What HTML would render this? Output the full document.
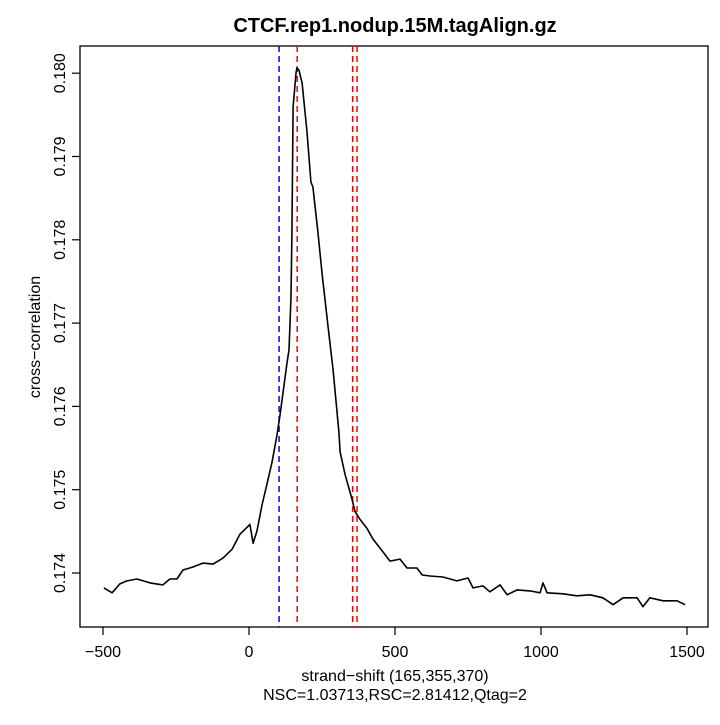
<!DOCTYPE html>
<html><head><meta charset="utf-8"><style>
body{margin:0;background:#fff}
svg text{font-family:"Liberation Sans",sans-serif;fill:#000}
</style></head><body>
<svg id="chart" width="720" height="720" xmlns="http://www.w3.org/2000/svg">
<g id="g"></g>
</svg>
<script>
const shifts=[-497,-469,-442,-418,-384,-339,-295,-271,-247,-226,-192,-158,-123,-89,-58,-31,3,14,27,45,62,79,96,106,130,137,144,147,151,161,164,171,182,199,212,219,236,250,271,288,308,312,329,353,363,380,404,425,449,483,517,541,575,593,620,664,712,750,767,801,825,860,884,918,962,997,1007,1021,1075,1123,1168,1212,1247,1281,1329,1349,1373,1418,1466,1493];
const corr=[0.173821,0.173762,0.173869,0.173905,0.173928,0.173881,0.173857,0.173928,0.173928,0.174036,0.174072,0.174119,0.174107,0.174179,0.174286,0.174465,0.174584,0.174358,0.174501,0.174822,0.175073,0.175335,0.175657,0.175895,0.176521,0.176677,0.177314,0.178058,0.179595,0.180003,0.180063,0.180039,0.179883,0.179283,0.178694,0.178634,0.178094,0.177602,0.176953,0.176437,0.175693,0.175454,0.175180,0.174882,0.174739,0.174644,0.174536,0.174405,0.174298,0.174143,0.174167,0.174060,0.174060,0.173976,0.173964,0.173952,0.173905,0.173940,0.173821,0.173845,0.173774,0.173857,0.173738,0.173797,0.173785,0.173762,0.173881,0.173762,0.173750,0.173726,0.173738,0.173702,0.173619,0.173702,0.173702,0.173595,0.173702,0.173666,0.173666,0.173619];
const xTicks=[-500,0,500,1000,1500];
const xTickLabels=["\u2212500","0","500","1000","1500"];
const yTicks=[0.174,0.175,0.176,0.177,0.178,0.179,0.180];
const yTickLabels=["0.174","0.175","0.176","0.177","0.178","0.179","0.180"];
const blueLines=[103];
const redLines=[165,355,370];

const X=v=>249+v*0.292;
const Y=v=>573-(v-0.174)*83300;
const L=80,R=708,T=46,B=627;
const g=document.getElementById('g');
const NS='http://www.w3.org/2000/svg';
function mk(tag,attrs,txt){const e=document.createElementNS(NS,tag);for(const k in attrs)e.setAttribute(k,attrs[k]);if(txt!=null)e.textContent=txt;g.appendChild(e);return e;}

let e=mk('text',{x:395,y:32,'text-anchor':'middle','font-size':'20','font-weight':'bold'},'CTCF.rep1.nodup.15M.tagAlign.gz');



e=mk('rect',{x:L,y:T,width:R-L,height:B-T,fill:'none',stroke:'#000','stroke-width':1.3});



xTicks.forEach((t,i)=>{
  let l=mk('line',{x1:X(t),x2:X(t),y1:B,y2:B+8,stroke:'#000','stroke-width':1.2});
  
  
  let tx=mk('text',{x:X(t),y:B+30,'text-anchor':'middle','font-size':'16'},xTickLabels[i]);
  
  
});
yTicks.forEach((t,i)=>{
  let l=mk('line',{x1:L-8,x2:L,y1:Y(t),y2:Y(t),stroke:'#000','stroke-width':1.2});
  
  
  let tx=mk('text',{x:0,y:0,'text-anchor':'middle','font-size':'16',transform:`translate(65,${Y(t)}) rotate(-90)`},yTickLabels[i]);
  
  
});
e=mk('text',{x:395,y:681,'text-anchor':'middle','font-size':'16'},'strand\u2212shift (165,355,370)');


e=mk('text',{x:395,y:700,'text-anchor':'middle','font-size':'16'},'NSC=1.03713,RSC=2.81412,Qtag=2');


e=mk('text',{x:0,y:0,'text-anchor':'middle','font-size':'16',transform:'translate(40,337) rotate(-90)'},'cross\u2212correlation');



blueLines.forEach(v=>{
  let l=mk('line',{x1:X(v),x2:X(v),y1:T,y2:B,stroke:'#0000ff','stroke-width':1.5,'stroke-dasharray':'6,4'});
  
  
});
redLines.forEach(v=>{
  let l=mk('line',{x1:X(v),x2:X(v),y1:T,y2:B,stroke:'#ff0000','stroke-width':1.5,'stroke-dasharray':'6,4'});
  
  
});
const pts=shifts.map((s,i)=>X(s).toFixed(1)+','+Y(corr[i]).toFixed(1)).join(' ');
e=mk('polyline',{points:pts,fill:'none',stroke:'#000','stroke-width':1.6,'stroke-linejoin':'round'});


</script>
</body></html>
